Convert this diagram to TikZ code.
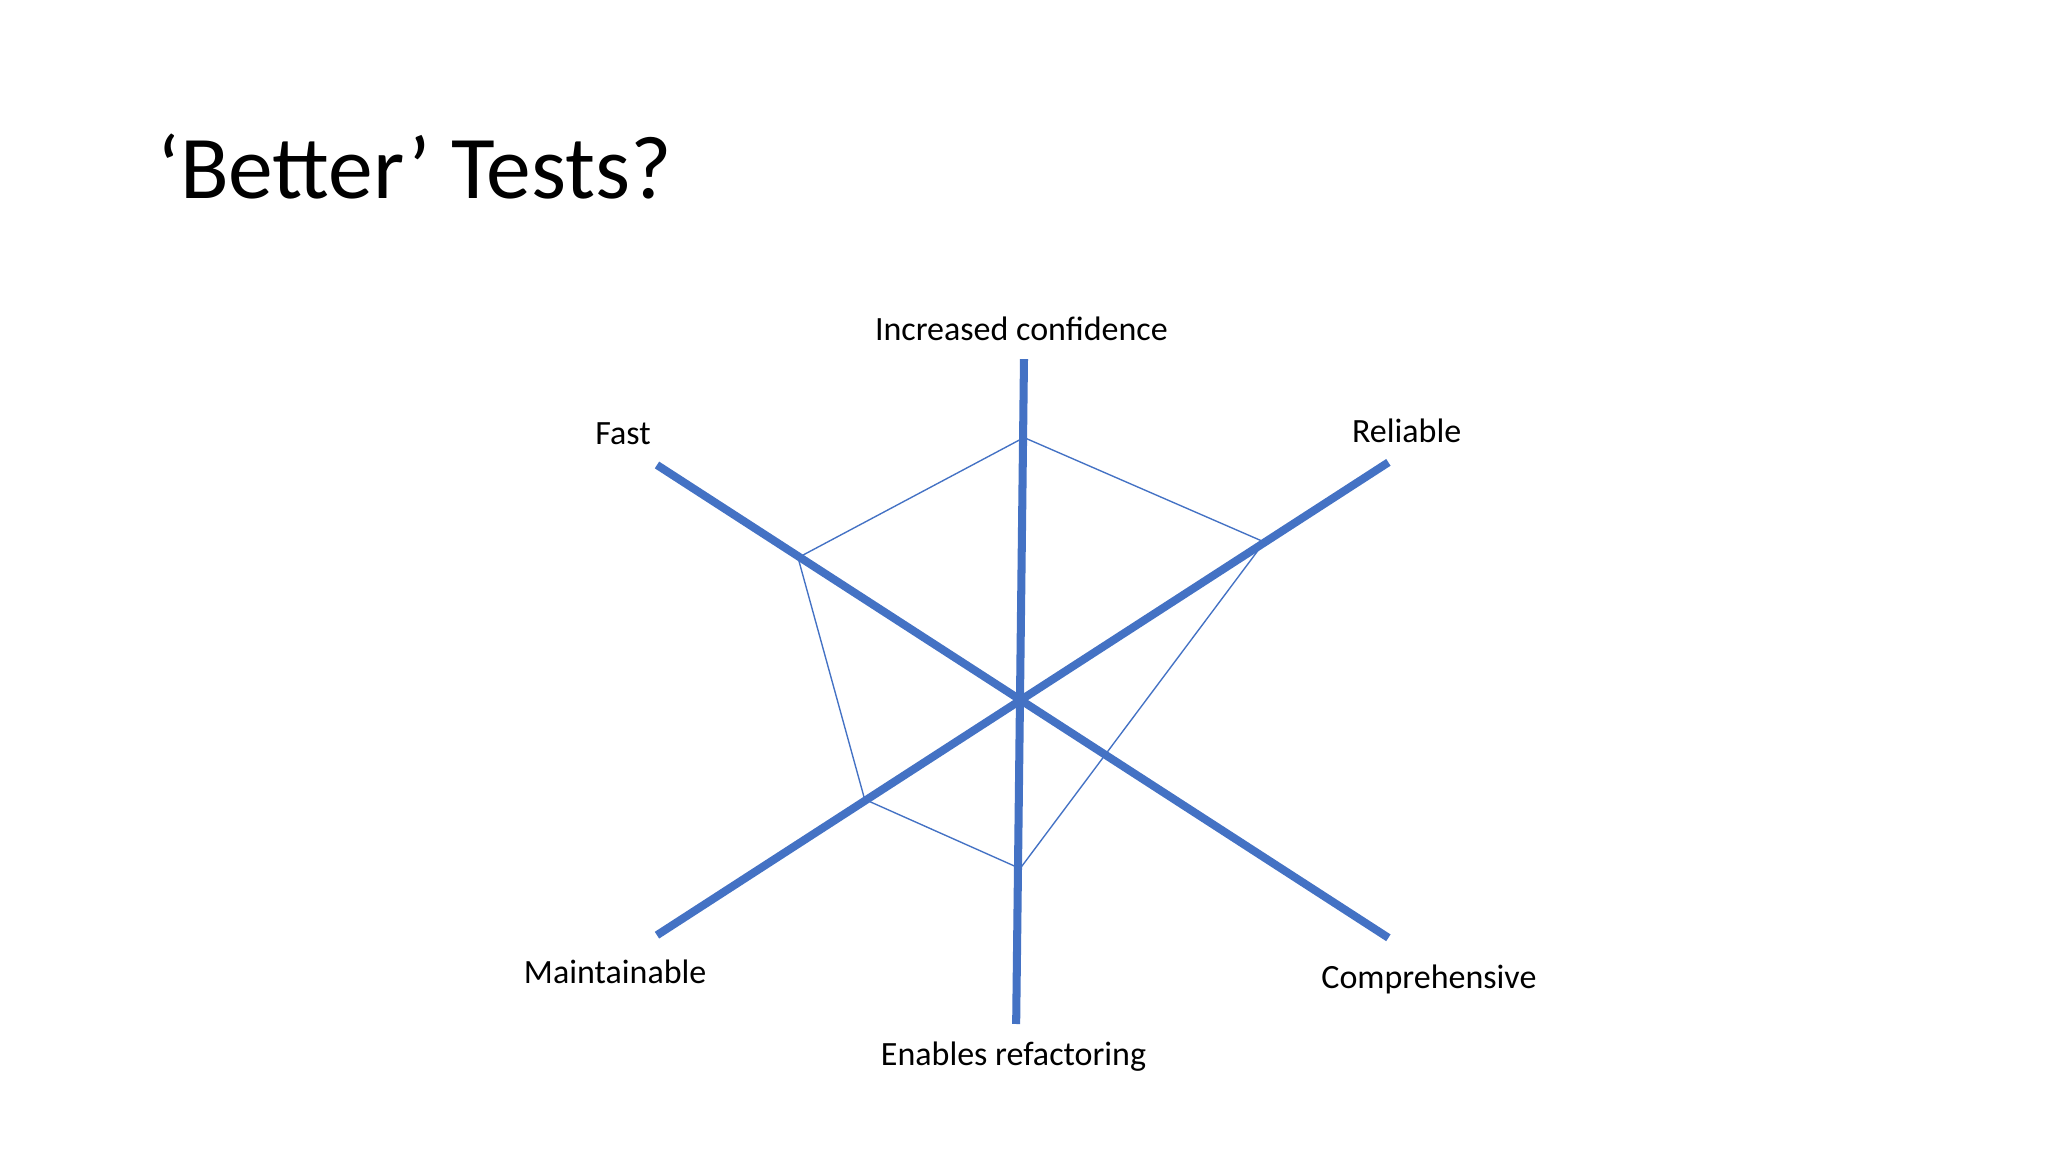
\documentclass[tikz,border=0pt]{standalone}
\usepackage{fontspec}
\setmainfont{Carlito}
\definecolor{ax}{HTML}{4472C4}
\tikzset{axisline/.style={draw=ax,line width=1.75pt},
 web/.style={draw=ax,line width=0.3pt},
 lab/.style={font=\fontsize{7.4pt}{9pt}\selectfont,inner sep=0pt}}
\begin{document}
\begin{tikzpicture}[x=0.01cm,y=-0.01cm]
\useasboundingbox (0,0) rectangle (1568,882);
\node[anchor=base west,inner sep=0pt,font=\fontsize{19.5pt}{22pt}\selectfont] (title) at (120,152) {‘Better’ Tests?};
\coordinate (aT) at (784,275); \coordinate (aB) at (778,784);
\coordinate (aF) at (503,356); \coordinate (aC) at (1063,718);
\coordinate (aR) at (1063,354); \coordinate (aM) at (503,716);
\coordinate (pT) at (784,335); \coordinate (pR) at (968,415);
\coordinate (pB) at (781,665); \coordinate (pM) at (662,612);
\coordinate (pF) at (611,427);
\draw[web] (pT)--(pR)--(pB)--(pM)--(pF)--cycle;
\draw[axisline] (aT)--(aB);
\draw[axisline] (aF)--(aC);
\draw[axisline] (aR)--(aM);
\node[lab] (l1) at (782,252) {Increased confidence};
\node[lab] (l2) at (477,332) {Fast};
\node[lab] (l3) at (1077,330) {Reliable};
\node[lab] (l4) at (471,744) {Maintainable};
\node[lab] (l5) at (1094,750) {Comprehensive};
\node[lab] (l6) at (776,809) {Enables refactoring};
\end{tikzpicture}
\end{document}
